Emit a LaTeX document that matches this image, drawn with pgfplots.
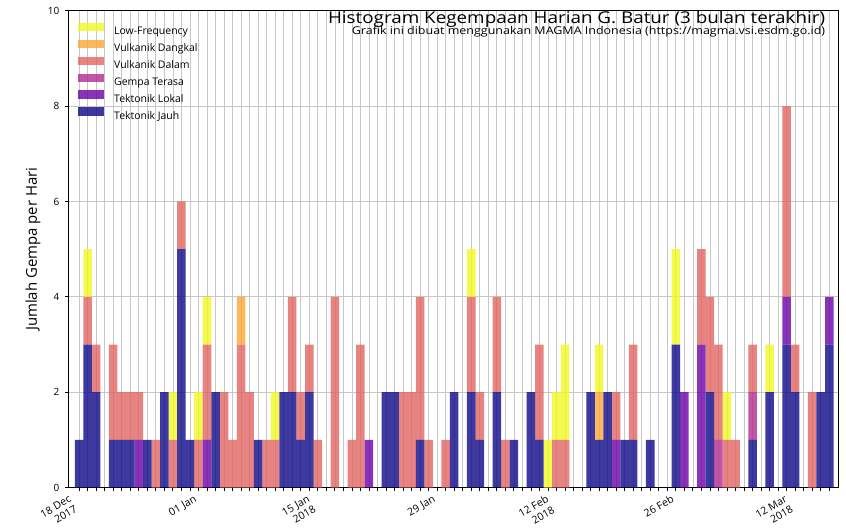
\documentclass[border=0pt]{standalone}
\usepackage{fontspec}
\setmainfont{Open Sans}
\newfontfamily\widefont{Open Sans}[FakeStretch=1.16]
\usepackage{pgfplots}
\usepackage{pgfplotstable}
\pgfplotsset{compat=1.18}
\definecolor{cTJ}{HTML}{0D0887}
\definecolor{cTL}{HTML}{6A00A8}
\definecolor{cGT}{HTML}{B12A90}
\definecolor{cVD}{HTML}{E16462}
\definecolor{cVK}{HTML}{FCA636}
\definecolor{cLF}{HTML}{F0F921}
\pgfplotsset{mylegend/.style={legend image code/.code={\fill[##1] (0bp,0.75bp) rectangle (25.7bp,9.05bp);}}}
\pgfplotstableread{
d TJ TL GT VD VK LF
0 1 0 0 0 0 0
1 3 0 0 1 0 1
2 2 0 0 1 0 0
3 0 0 0 0 0 0
4 1 0 0 2 0 0
5 1 0 0 1 0 0
6 1 0 0 1 0 0
7 0 1 0 1 0 0
8 1 0 0 0 0 0
9 0 0 0 1 0 0
10 2 0 0 0 0 0
11 0 0 0 1 0 1
12 5 0 0 1 0 0
13 1 0 0 0 0 0
14 0 0 0 1 0 1
15 0 1 0 2 0 1
16 2 0 0 0 0 0
17 0 0 0 2 0 0
18 0 0 0 1 0 0
19 0 0 0 3 1 0
20 0 0 0 2 0 0
21 1 0 0 0 0 0
22 0 0 0 1 0 0
23 0 0 0 1 0 1
24 2 0 0 0 0 0
25 2 0 0 2 0 0
26 1 0 0 1 0 0
27 2 0 0 1 0 0
28 0 0 0 1 0 0
29 0 0 0 0 0 0
30 0 0 0 4 0 0
31 0 0 0 0 0 0
32 0 0 0 1 0 0
33 0 0 0 3 0 0
34 0 1 0 0 0 0
35 0 0 0 0 0 0
36 2 0 0 0 0 0
37 2 0 0 0 0 0
38 0 0 0 2 0 0
39 0 0 0 2 0 0
40 1 0 0 3 0 0
41 0 0 0 1 0 0
42 0 0 0 0 0 0
43 0 0 0 1 0 0
44 2 0 0 0 0 0
45 0 0 0 0 0 0
46 2 0 0 2 0 1
47 1 0 0 1 0 0
48 0 0 0 0 0 0
49 2 0 0 2 0 0
50 0 0 0 1 0 0
51 1 0 0 0 0 0
52 0 0 0 0 0 0
53 2 0 0 0 0 0
54 1 0 0 2 0 0
55 0 0 0 0 0 1
56 0 0 0 1 0 1
57 0 0 0 1 0 2
58 0 0 0 0 0 0
59 0 0 0 0 0 0
60 2 0 0 0 0 0
61 1 0 0 0 1 1
62 2 0 0 0 0 0
63 0 1 0 1 0 0
64 1 0 0 0 0 0
65 1 0 0 2 0 0
66 0 0 0 0 0 0
67 1 0 0 0 0 0
68 0 0 0 0 0 0
69 0 0 0 0 0 0
70 3 0 0 0 0 2
71 0 2 0 0 0 0
72 0 0 0 0 0 0
73 0 3 0 2 0 0
74 2 0 0 2 0 0
75 0 0 1 2 0 0
76 0 0 0 1 0 1
77 0 0 0 1 0 0
78 0 0 0 0 0 0
79 1 0 1 1 0 0
80 0 0 0 0 0 0
81 2 0 0 0 0 1
82 0 0 0 0 0 0
83 3 1 0 4 0 0
84 2 0 0 1 0 0
85 0 0 0 0 0 0
86 0 0 0 2 0 0
87 2 0 0 0 0 0
88 3 1 0 0 0 0
}\data
\begin{document}
\begin{tikzpicture}
\begin{axis}[
  at={(0,0)}, anchor=south west,
  width=770bp, height=476.9bp, scale only axis,
  xmin=-1.27, xmax=89.06, ymin=0, ymax=10,
  ybar stacked, bar width=1,
  xtick={0,...,88}, xticklabels={},
  ytick={0,2,...,10},
  xtick pos=bottom, ytick pos=left,
  tick align=outside, major tick length=3.5bp,
  every tick/.style={black, line width=0.8bp},
  grid=major,
  major grid style={color=black!22, line width=0.7bp},
  axis line style={line width=0.8bp},
  /pgf/number format/assume math mode=true,
  yticklabel style={font=\fontsize{10}{12}\selectfont, xshift=-2bp},
  ylabel={Jumlah Gempa per Hari},
  ylabel style={at={(axis description cs:-0.0458,0.5)}, anchor=center, font=\fontsize{15}{18}\selectfont},
  clip=false,
  reverse legend, legend cell align=left,
  legend style={at={(axis description cs:0,1)}, anchor=north west, xshift=10bp, yshift=-12bp,
    draw=none, fill=none, inner sep=0pt, row sep=1.2bp,
    font=\fontsize{10.5}{12}\selectfont,
    /tikz/every odd column/.append style={column sep=8bp}},
]
\addplot[fill=cTJ, fill opacity=0.8, draw=none, mylegend] table[x=d,y=TJ]{\data};
\addplot[fill=cTL, fill opacity=0.8, draw=none, mylegend] table[x=d,y=TL]{\data};
\addplot[fill=cGT, fill opacity=0.8, draw=none, mylegend] table[x=d,y=GT]{\data};
\addplot[fill=cVD, fill opacity=0.8, draw=none, mylegend] table[x=d,y=VD]{\data};
\addplot[fill=cVK, fill opacity=0.8, draw=none, mylegend] table[x=d,y=VK]{\data};
\addplot[fill=cLF, fill opacity=0.8, draw=none, mylegend] table[x=d,y=LF]{\data};
\legend{Tektonik Jauh, Tektonik Lokal, Gempa Terasa, Vulkanik Dalam, Vulkanik Dangkal, Low-Frequency}
\node[anchor=base east, inner sep=0pt, font=\widefont\fontsize{16.3}{19}\selectfont] at ([xshift=-13bp,yshift=-13.3bp]rel axis cs:1,1) {Histogram Kegempaan Harian G. Batur (3 bulan terakhir)};
\node[anchor=base east, inner sep=0pt, font=\widefont\fontsize{10.8}{12}\selectfont] at ([xshift=-13bp,yshift=-24.3bp]rel axis cs:1,1) {Grafik ini dibuat menggunakan MAGMA Indonesia (https://magma.vsi.esdm.go.id)};
\tikzset{xl/.style={rotate=30, anchor=north east, align=right, inner sep=0pt, font=\fontsize{10.5}{12}\selectfont}}
\node[xl] at ([xshift=-11bp,yshift=-7bp]axis cs:0,0) {18 Dec\\2017};
\node[xl] at ([xshift=-5bp,yshift=-7bp]axis cs:14,0) {01 Jan};
\node[xl] at ([xshift=-11bp,yshift=-7bp]axis cs:28,0) {15 Jan\\2018};
\node[xl] at ([xshift=-5bp,yshift=-7bp]axis cs:42,0) {29 Jan};
\node[xl] at ([xshift=-11bp,yshift=-7bp]axis cs:56,0) {12 Feb\\2018};
\node[xl] at ([xshift=-5bp,yshift=-7bp]axis cs:70,0) {26 Feb};
\node[xl] at ([xshift=-11bp,yshift=-7bp]axis cs:84,0) {12 Mar\\2018};
\end{axis}
\pgfresetboundingbox
\useasboundingbox (-68.3bp,-41.4bp) rectangle (777.7bp,487.6bp);
\end{tikzpicture}
\end{document}
